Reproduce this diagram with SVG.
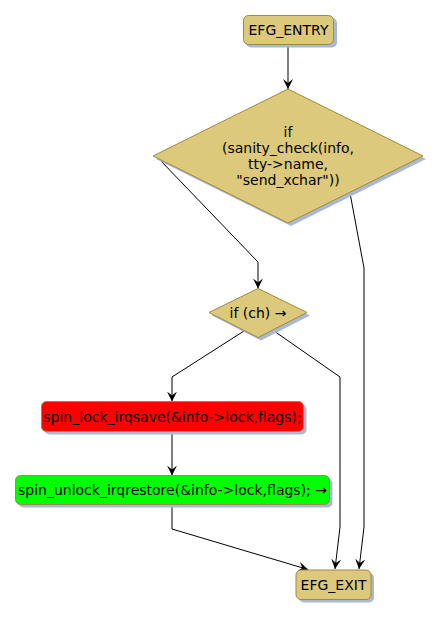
<svg xmlns="http://www.w3.org/2000/svg" width="442" height="618" viewBox="0 0 442 618">
<style>
.n{fill:#dcc97c;stroke:#a08a3c;stroke-width:1}
.sh{fill:#a9b8d4;stroke:none}
.t{font-family:"DejaVu Sans",sans-serif;font-size:14px;fill:#000;text-anchor:middle}
.c{fill:none;stroke:#000;stroke-width:1}
</style>
<defs>
<marker id="ah" markerUnits="userSpaceOnUse" markerWidth="10" markerHeight="10" viewBox="0 0 10 10" refX="10" refY="5" orient="auto">
<path d="M0,0 L10,5 L0,10 L4,5 z" fill="#000"/>
</marker>
</defs>
<rect width="442" height="618" fill="#fff"/>
<g id="connectors">
<path class="c" d="M288,44 L288,89" marker-end="url(#ah)"/>
<path class="c" d="M160,160 L258,262 L258,288.5" marker-end="url(#ah)"/>
<path class="c" d="M350,193 L364,268 L364,527 L359,569" marker-end="url(#ah)"/>
<path class="c" d="M244,331 L172,377 L172,401.5" marker-end="url(#ah)"/>
<path class="c" d="M274,331 L340,377 L340,527 L335,569" marker-end="url(#ah)"/>
<path class="c" d="M172,432 L172,475.5" marker-end="url(#ah)"/>
<path class="c" d="M172,505 L172,529 L308,569.5" marker-end="url(#ah)"/>
</g>
<g id="entry">
<rect class="sh" x="246" y="18" width="91" height="29.5" rx="5"/>
<rect class="n" x="243.5" y="15.5" width="90" height="29" rx="5"/>
<text class="t" x="288.5" y="35">EFG_ENTRY</text>
</g>
<g id="cond1">
<polygon class="sh" points="291,92 426,159 291,226 156,159"/>
<polygon class="n" points="288,89 423,156 288,223 153,156"/>
<text class="t" x="288" y="137">if</text>
<text class="t" x="288" y="153">(sanity_check(info,</text>
<text class="t" x="288" y="169">tty-&gt;name,</text>
<text class="t" x="288" y="185">"send_xchar"))</text>
</g>
<g id="cond2">
<polygon class="sh" points="261,291.5 310,315.5 261,340.5 212,315.5"/>
<polygon class="n" points="258,288.5 307,312.5 258,337.5 209,312.5"/>
<text class="t" x="258" y="318">if (ch) →</text>
</g>
<g id="lock">
<rect class="sh" x="44.5" y="404.5" width="262" height="30" rx="5"/>
<rect x="41.5" y="401.5" width="262" height="30" rx="5" fill="#ff0000" stroke="#a08a3c"/>
<text class="t" x="172.5" y="421.5">spin_lock_irqsave(&amp;info-&gt;lock,flags);</text>
</g>
<g id="unlock">
<rect class="sh" x="18.5" y="478.5" width="314" height="29" rx="5"/>
<rect x="15.5" y="475.5" width="314" height="29" rx="5" fill="#00ff00" stroke="#a08a3c"/>
<text class="t" x="172.5" y="495">spin_unlock_irqrestore(&amp;info-&gt;lock,flags); →</text>
</g>
<g id="exit">
<rect class="sh" x="299" y="573" width="75" height="29.5" rx="5"/>
<rect class="n" x="296" y="570" width="75" height="29.5" rx="5"/>
<text class="t" x="333.5" y="590">EFG_EXIT</text>
</g>
</svg>
